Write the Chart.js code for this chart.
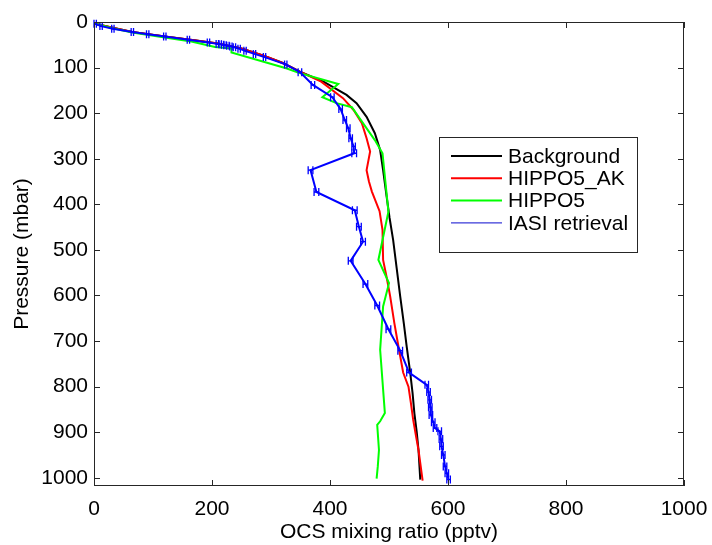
<!DOCTYPE html>
<html>
<head>
<meta charset="utf-8">
<script src="https://cdn.jsdelivr.net/npm/chart.js@4/dist/chart.umd.min.js"></script>
<style>
  html, body { margin: 0; padding: 0; background: #fff; }
  #wrap { width: 712px; height: 545px; }
</style>
</head>
<body>
<div id="wrap"><canvas id="graph_area" width="712" height="545"></canvas></div>
<script>
// ---- data (x = OCS pptv, y = pressure mbar) ----
const seriesNames = ['Background', 'HIPPO5_AK', 'HIPPO5', 'IASI retrieval'];
const seriesColors = ['#000000', '#ff0000', '#00ff00', '#0000ff'];

const xTicks = [0, 200, 400, 600, 800, 1000];
const yTicks = [0, 100, 200, 300, 400, 500, 600, 700, 800, 900, 1000];

const bgOcs = [2, 30, 65, 120, 170, 210, 250, 290, 320, 349, 389, 428, 445, 462, 476, 485, 490, 496, 501, 507, 513, 519, 525, 530, 536, 540, 543, 547, 550, 553];
const bgPres = [4, 12, 22, 32, 40, 47, 58, 75, 90, 109, 131, 160, 178, 208, 244, 281, 325, 383, 430, 478, 540, 602, 660, 712, 770, 815, 858, 900, 939, 1004];

const akOcs = [2, 30, 65, 120, 170, 210, 250, 290, 320, 349, 385, 422, 440, 454, 462, 468, 462, 466, 471, 484, 489, 490, 496, 502, 509, 516, 524, 533, 537, 541, 546, 550, 557];
const akPres = [4, 12, 22, 32, 40, 47, 58, 75, 90, 109, 131, 167, 193, 222, 255, 284, 325, 350, 372, 415, 456, 522, 560, 602, 660, 712, 769, 800, 835, 873, 910, 939, 1006];

const hipOcs = [2, 30, 65, 120, 165, 205, 233, 233, 327, 346, 414, 387, 411, 437, 476, 489, 499, 482, 500, 490, 485, 493, 485, 480, 483, 481, 479];
const hipPres = [4, 13, 23, 34, 43, 55, 58, 67, 102, 111, 136, 165, 178, 187, 259, 288, 416, 522, 573, 624, 719, 858, 876, 884, 939, 975, 1002];

const iasiOcs = [2, 12, 32, 65, 91, 120, 160, 194, 209, 214, 218, 222, 227, 232, 238, 246, 256, 272, 289, 325, 349, 371, 404, 418, 425, 431, 435, 440, 441, 367, 377, 442, 449, 456, 435, 460, 480, 499, 519, 534, 564, 567, 569, 570, 571, 575, 578, 586, 588, 589, 592, 595, 598, 601];
const iasiPres = [4, 9, 15, 22, 27, 32, 39, 45, 48, 49, 50, 51, 52, 53.5, 55.5, 58.5, 63, 70, 77, 93, 110, 138, 165, 191, 215, 233, 255, 273, 288, 325, 373, 413, 449, 482, 524, 575, 622, 674, 721, 769, 796, 812, 829, 845, 862, 878, 891, 898, 915, 931, 950, 975, 990, 1004];
const iasiErr = [2, 2, 2, 2, 2, 2, 2, 2, 2, 2, 2, 2, 2, 2, 2, 2, 2, 2, 2, 2, 3, 3, 3, 3, 3, 3, 3, 3, 4, 4, 4, 4, 4, 4, 4, 4, 4, 4, 4, 4, 3, 3, 3, 3, 3, 3, 3, 3, 3, 3, 3, 3, 3, 3];

const FONT = 'Liberation Sans, Arial, Helvetica, sans-serif';
const FSIZE = 21;

toPoints = function (xs, ys) {
  return xs.map(function (v, i) { return { x: v, y: ys[i] }; });
};

// box with inward ticks, error bars and legend, MATLAB style
var matlabPlugin = {
  id: 'matlab',
  afterDatasetsDraw: function (chart) {
    const ctx = chart.ctx;
    const xs = chart.scales.x, ys = chart.scales.y;
    // horizontal error bars on IASI retrieval
    ctx.save();
    ctx.strokeStyle = seriesColors[3];
    ctx.lineWidth = 1.3;
    iasiOcs.forEach(function (v, i) {
      const py = ys.getPixelForValue(iasiPres[i]);
      const x1 = xs.getPixelForValue(v - iasiErr[i]);
      const x2 = xs.getPixelForValue(v + iasiErr[i]);
      ctx.beginPath();
      ctx.moveTo(x1, py); ctx.lineTo(x2, py);
      ctx.moveTo(x1, py - 4); ctx.lineTo(x1, py + 4);
      ctx.moveTo(x2, py - 4); ctx.lineTo(x2, py + 4);
      ctx.stroke();
    });
    ctx.restore();
  },
  afterDraw: function (chart) {
    const ctx = chart.ctx;
    const a = chart.chartArea;
    const xs = chart.scales.x, ys = chart.scales.y;
    const tl = 6;
    ctx.save();
    ctx.strokeStyle = '#262626';
    ctx.lineWidth = 1;
    ctx.strokeRect(a.left + 0.5, a.top + 0.5, a.right - a.left - 1, a.bottom - a.top - 1);
    ctx.beginPath();
    xTicks.forEach(function (v) {
      const px = Math.round(xs.getPixelForValue(v)) + 0.5;
      ctx.moveTo(px, a.bottom); ctx.lineTo(px, a.bottom - tl);
      ctx.moveTo(px, a.top); ctx.lineTo(px, a.top + tl);
    });
    yTicks.forEach(function (v) {
      const py = Math.round(ys.getPixelForValue(v)) + 0.5;
      ctx.moveTo(a.left, py); ctx.lineTo(a.left + tl, py);
      ctx.moveTo(a.right, py); ctx.lineTo(a.right - tl, py);
    });
    ctx.stroke();

    // legend
    const bx = 439.5, by = 137.5, bw = 198, bh = 115;
    ctx.fillStyle = '#fff';
    ctx.fillRect(bx, by, bw, bh);
    ctx.strokeStyle = '#262626';
    ctx.strokeRect(bx, by, bw, bh);
    ctx.font = FSIZE + 'px ' + FONT;
    ctx.textBaseline = 'middle';
    ctx.textAlign = 'left';
    chart.data.datasets.forEach(function (ds, i) {
      const ry = by + 18.5 + i * 22.3;
      ctx.beginPath();
      ctx.strokeStyle = i === 3 ? '#3a3ad8' : ds.borderColor;
      ctx.lineWidth = i === 3 ? 1.2 : 2;
      ctx.moveTo(451, ry); ctx.lineTo(502, ry);
      ctx.stroke();
      ctx.fillStyle = '#000';
      ctx.fillText(ds.label, 508, ry + 1);
    });
    ctx.restore();
  }
};

const datasets = [
  { label: seriesNames[0], data: toPoints(bgOcs, bgPres), borderColor: seriesColors[0], order: 3 },
  { label: seriesNames[1], data: toPoints(akOcs, akPres), borderColor: seriesColors[1], order: 2 },
  { label: seriesNames[2], data: toPoints(hipOcs, hipPres), borderColor: seriesColors[2], order: 1 },
  { label: seriesNames[3], data: toPoints(iasiOcs, iasiPres), borderColor: seriesColors[3], order: 0 }
].map(function (d) {
  d.showLine = true;
  d.borderWidth = 2;
  d.pointRadius = 0;
  d.fill = false;
  d.tension = 0;
  d.backgroundColor = d.borderColor;
  return d;
});

const ctx = document.getElementById('graph_area').getContext('2d');
new Chart(ctx, {
  type: 'scatter',
  data: { datasets: datasets },
  options: {
    responsive: false,
    animation: false,
    events: [],
    layout: { padding: { left: 0, top: 22, right: 28, bottom: 0 } },
    plugins: { legend: { display: false }, tooltip: { enabled: false } },
    scales: {
      x: {
        type: 'linear', min: 0, max: 1000,
        afterBuildTicks: function (s) { s.ticks = xTicks.map(function (v) { return { value: v }; }); },
        afterFit: function (s) { s.height = 59; },
        grid: { display: false, drawTicks: false },
        border: { display: false },
        // taller line box pushes the labels down without widening the side padding
        ticks: { padding: 4, color: '#000', font: { family: FONT, size: FSIZE, lineHeight: 1.8 }, maxRotation: 0,
          callback: function (v) { return String(v); } },
        title: { display: true, text: 'OCS mixing ratio (pptv)', color: '#000',
          font: { family: FONT, size: FSIZE }, padding: { top: 0, bottom: 0 } }
      },
      y: {
        type: 'linear', min: 0, max: 1018, reverse: true,
        afterBuildTicks: function (s) { s.ticks = yTicks.map(function (v) { return { value: v }; }); },
        afterFit: function (s) { s.width = 94; },
        grid: { display: false, drawTicks: false },
        border: { display: false },
        ticks: { padding: 6, color: '#000', font: { family: FONT, size: FSIZE },
          callback: function (v) { return String(v); } },
        title: { display: true, text: 'Pressure (mbar)', color: '#000',
          font: { family: FONT, size: FSIZE }, padding: { top: 10, bottom: 0 } }
      }
    }
  },
  plugins: [matlabPlugin]
});
</script>
</body>
</html>
